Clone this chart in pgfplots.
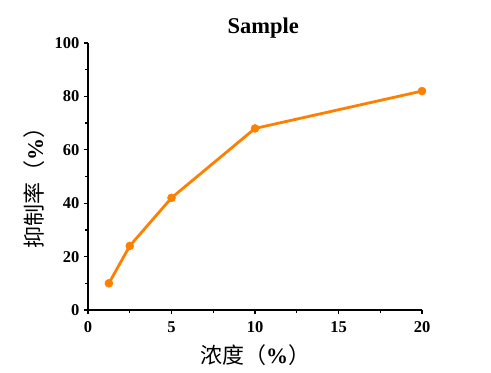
\documentclass[border=0pt]{standalone}
\usepackage{fontspec}
\setmainfont{Liberation Serif}
\newfontfamily\cjk{Noto Sans CJK SC}
\usepackage{pgfplots}
\pgfplotsset{compat=1.18}
\definecolor{orng}{RGB}{255,128,0}
\begin{document}
\begin{tikzpicture}[x=1bp,y=1bp]
\path[use as bounding box] (-88bp,-63bp) rectangle (403bp,310bp);
\begin{axis}[
  scale only axis, width=334bp, height=267bp,
  at={(0,0)}, anchor=south west,
  xmin=0, xmax=20, ymin=0, ymax=100,
  axis lines*=left,
  axis line style={line width=1.4bp, shorten <=-1.5bp},
  xtick={0,5,10,15,20}, ytick={0,20,40,60,80,100},
  minor xtick={2.5,7.5,12.5,17.5}, minor ytick={10,30,50,70,90},
  tick align=outside, tick pos=left,
  major tick length=4bp, minor tick length=2.5bp,
  every tick/.style={line width=1.2bp, black},
  tick label style={font=\fontsize{16.5bp}{16.5bp}\selectfont\bfseries},
  xticklabel style={yshift=-4bp},
  yticklabel style={xshift=-1bp},
  /pgf/number format/assume math mode=true,
  title={\fontsize{22.5bp}{22.5bp}\selectfont\bfseries Sample},
  title style={at={(0.525,1)}, yshift=-5bp},
  xlabel={\fontsize{22bp}{22bp}\selectfont{\cjk 浓度（}\textbf{\%}{\cjk ）}},
  ylabel={\fontsize{22bp}{22bp}\selectfont{\cjk 抑制率（}\textbf{\%}{\cjk ）}},
  xlabel style={yshift=-5bp},
  ylabel style={yshift=3bp, xshift=-6bp},
  clip=false,
]
\addplot[orng, line width=2.8bp, mark=*, mark size=4bp, mark options={fill=orng, draw=orng, line width=0.5bp}]
coordinates {(1.25,10) (2.5,24) (5,42) (10,68) (20,82)};
\end{axis}
\end{tikzpicture}
\end{document}
